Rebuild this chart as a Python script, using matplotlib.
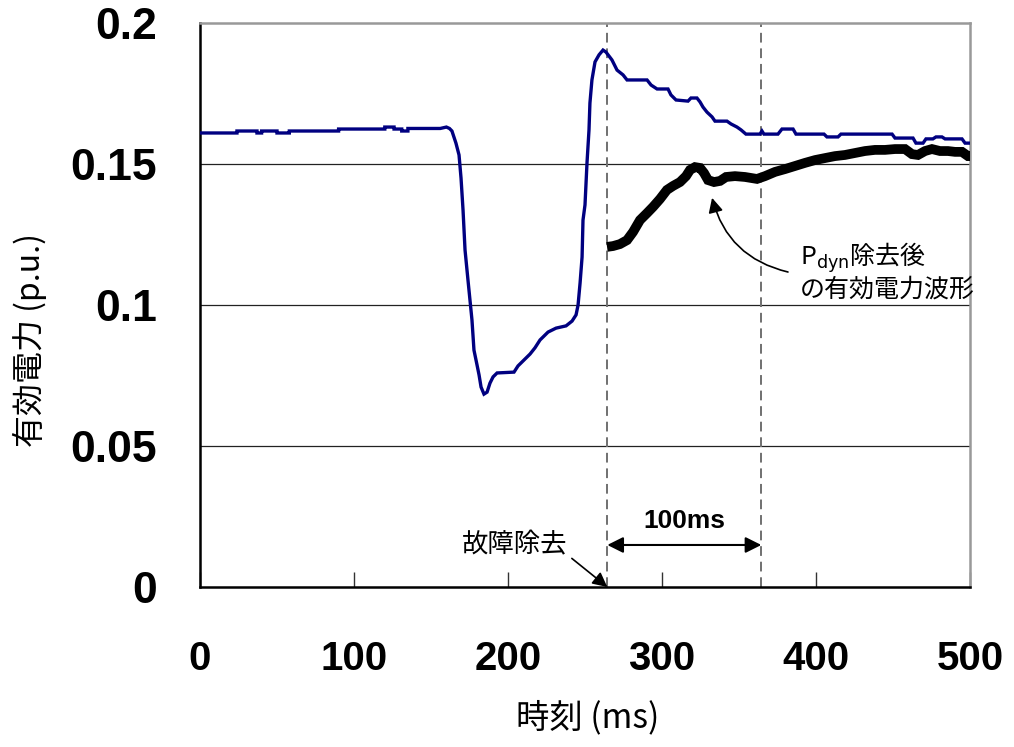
import matplotlib
matplotlib.use("Agg")
import matplotlib.pyplot as plt
from matplotlib import font_manager as fm
from matplotlib.patches import FancyArrowPatch

# Measured active power (p.u.) around a fault, time in ms
time_ms = [0, 24, 24, 37, 37, 40, 40, 50, 50, 58, 58, 90, 90, 120, 120, 126, 126,
           131, 131, 135, 135, 156, 160, 162,
           163.6, 166.2, 168.2, 169.5, 170.8, 172.1, 174.0, 176.6, 177.9, 179.9,
           181.2, 182.5, 184.4, 186.4, 188.3, 190.3, 192.9, 203.9, 206.5, 210.4,
           214.3, 217.5, 220.8, 226.0, 231.2, 237.7, 241.6, 244.2, 245.5, 246.8,
           248.1, 248.7, 250.0, 251.3, 252.6, 253.2, 254.5, 256.5, 259.1, 261.7,
           263.6, 267.5, 270.8, 274.7, 277.3, 290.3, 292.9, 296.8, 303.9, 305.8,
           309.1, 316.9, 318.8, 322.7, 324.7, 326.6, 329.2, 332.5, 334.4, 342.2,
           344.8, 348.7, 351.3, 354.5, 363.6, 364.9, 366.2, 375.3, 377.9, 385.1,
           387.0, 405.2, 407.1, 414.3, 416.2, 449.4, 451.3, 463.0, 464.9, 469.5,
           471.4, 475.9, 477.9, 481.8, 483.8, 494.8, 496.8, 500.0]
power_pu = [0.1610, 0.1610, 0.1617, 0.1617, 0.1610, 0.1610, 0.1617, 0.1617, 0.1610,
            0.1610, 0.1617, 0.1617, 0.1624, 0.1624, 0.1631, 0.1631, 0.1624,
            0.1624, 0.1617, 0.1617, 0.1626, 0.1626, 0.1631, 0.1626,
            0.1617, 0.1574, 0.1532, 0.1450, 0.1337, 0.1195, 0.1089, 0.0947, 0.0840,
            0.0787, 0.0752, 0.0709, 0.0684, 0.0691, 0.0723, 0.0745, 0.0759, 0.0762,
            0.0784, 0.0805, 0.0826, 0.0848, 0.0876, 0.0904, 0.0918, 0.0926, 0.0943,
            0.0965, 0.1000, 0.1078, 0.1170, 0.1301, 0.1355, 0.1504, 0.1621, 0.1716,
            0.1798, 0.1862, 0.1887, 0.1904, 0.1897, 0.1869, 0.1833, 0.1816, 0.1798,
            0.1798, 0.1780, 0.1766, 0.1766, 0.1745, 0.1727, 0.1723, 0.1734, 0.1734,
            0.1720, 0.1702, 0.1684, 0.1667, 0.1652, 0.1652, 0.1642, 0.1631, 0.1621,
            0.1606, 0.1606, 0.1617, 0.1606, 0.1606, 0.1624, 0.1624, 0.1606, 0.1606,
            0.1596, 0.1596, 0.1606, 0.1606, 0.1592, 0.1592, 0.1574, 0.1574, 0.1589,
            0.1589, 0.1596, 0.1596, 0.1589, 0.1589, 0.1574, 0.1574]

# Active power after removing P_dyn
time_dyn_ms = [264.3, 268.2, 272.7, 277.3, 281.2, 285.7, 290.3, 294.2, 298.7, 303.2,
               307.1, 311.7, 315.6, 318.2, 321.4, 324.7, 327.3, 329.9, 333.8, 337.7,
               341.6, 347.4, 353.9, 361.7, 366.9, 373.4, 379.9, 386.4, 392.9, 399.4,
               405.8, 412.3, 418.8, 425.3, 431.8, 438.3, 444.8, 451.3, 457.8, 462.3,
               466.2, 470.8, 475.3, 480.5, 485.7, 490.3, 494.8, 498.7, 500.0]
power_dyn_pu = [0.1206, 0.1209, 0.1216, 0.1230, 0.1259, 0.1301, 0.1326, 0.1348, 0.1376,
                0.1408, 0.1422, 0.1436, 0.1457, 0.1479, 0.1489, 0.1486, 0.1468, 0.1443,
                0.1436, 0.1440, 0.1454, 0.1457, 0.1454, 0.1447, 0.1457, 0.1472, 0.1482,
                0.1493, 0.1504, 0.1514, 0.1521, 0.1528, 0.1532, 0.1539, 0.1546, 0.1550,
                0.1550, 0.1553, 0.1553, 0.1535, 0.1532, 0.1546, 0.1553, 0.1546, 0.1546,
                0.1543, 0.1543, 0.1528, 0.1528]

fault_clear_ms = 264.5
window_ms = 100
x_ticks = [0, 100, 200, 300, 400, 500]
y_ticks = [0, 0.05, 0.1, 0.15, 0.2]
y_tick_labels = ["0", "0.05", "0.1", "0.15", "0.2"]

JP = "Noto Sans CJK JP"
installed = {f.name for f in fm.fontManager.ttflist}
narrow = "Liberation Sans Narrow" if "Liberation Sans Narrow" in installed else None

fig = plt.figure(figsize=(10.14, 7.47), dpi=100)
ax = fig.add_axes([200 / 1014, 1 - 587 / 747, 770 / 1014, 564 / 747])

ax.set_xlim(0, 500)
ax.set_ylim(0, 0.2)

# horizontal grid
for yv in y_ticks[1:-1]:
    ax.axhline(yv, color="#222222", lw=0.9, zorder=1)

# fault clearing and +100ms markers
for xv in (fault_clear_ms, fault_clear_ms + window_ms):
    ax.axvline(xv, color="#707070", lw=1.4, ls=(0, (5, 3)), zorder=2)

ax.plot(time_ms, power_pu, color="#000080", lw=2.4, zorder=4,
        solid_joinstyle="miter")
ax.plot(time_dyn_ms, power_dyn_pu, color="black", lw=7.0, zorder=5,
        solid_capstyle="butt", solid_joinstyle="miter")

# frame
ax.spines["left"].set_color("black")
ax.spines["bottom"].set_color("black")
ax.spines["top"].set_color("#999999")
ax.spines["right"].set_color("#999999")
for s in ax.spines.values():
    s.set_linewidth(1.8)

ax.set_xticks(x_ticks)
ax.set_yticks(y_ticks)
ax.set_yticklabels(y_tick_labels)
ax.tick_params(axis="x", direction="in", length=11, width=1.0, color="#333333", pad=38)
ax.tick_params(axis="y", length=0, pad=31)
for lab in ax.get_yticklabels():
    lab.set_fontfamily("Liberation Sans")
    lab.set_fontweight("bold")
    lab.set_fontsize(32)
for lab in ax.get_xticklabels():
    if narrow:
        lab.set_fontfamily(narrow)
        lab.set_fontsize(36)
    else:
        lab.set_fontfamily("Liberation Sans")
        lab.set_fontsize(29)
    lab.set_fontweight("bold")

# axis titles
fig.text(588 / 1014, 1 - 718 / 747, "時刻 (ms)", fontsize=24,
         family=[JP, "DejaVu Sans"], ha="center", va="center")
fig.text(30 / 1014, 1 - 340 / 747, "有効電力 (p.u.)", fontsize=23,
         family=[JP, "DejaVu Sans"], ha="center", va="center", rotation=90)

# fault clearing label
ax.annotate("故障除去", xy=(fault_clear_ms, 0), xytext=(204, 0.0149),
            fontsize=19, family=[JP, "DejaVu Sans"], ha="center", va="center",
            arrowprops=dict(arrowstyle="-|>", color="black", lw=1.2,
                            mutation_scale=22, shrinkA=2, shrinkB=0,
                            relpos=(1.0, 0.15)),
            annotation_clip=False, zorder=6)

# 100 ms span
ax.annotate("", xy=(fault_clear_ms + window_ms, 0.0149), xytext=(fault_clear_ms, 0.0149),
            arrowprops=dict(arrowstyle="<|-|>", color="black", lw=1.5,
                            mutation_scale=24, shrinkA=0, shrinkB=0), zorder=6)
ax.text(fault_clear_ms + window_ms / 2, 0.0234, "100ms", fontsize=19,
        fontweight="bold", family="Liberation Sans", ha="center", va="center")

# P_dyn removed waveform label
ax.text(389.6, 0.1167, r"P$_{\mathrm{dyn}}$除去後", fontsize=18, family=JP,
        ha="left", va="center", clip_on=False, zorder=6)
ax.text(389.6, 0.1053, "の有効電力波形", fontsize=18, family=JP,
        ha="left", va="center", clip_on=False, zorder=6)
arrow = FancyArrowPatch((381.8, 0.1117), (332.5, 0.1380),
                        connectionstyle="arc3,rad=-0.3", arrowstyle="-|>",
                        mutation_scale=22, color="black", lw=1.2,
                        shrinkA=0, shrinkB=0, zorder=6)
ax.add_patch(arrow)

fig.savefig("out.png", dpi=100)
